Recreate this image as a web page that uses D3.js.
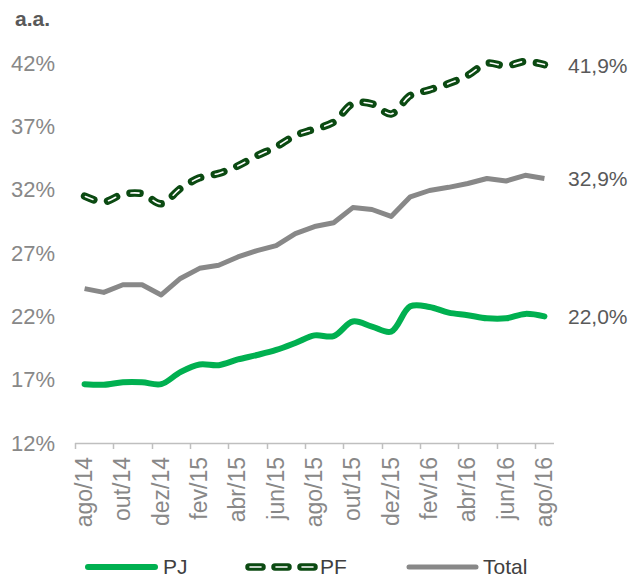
<!DOCTYPE html>
<html>
<head>
<meta charset="utf-8">
<script src="https://cdn.jsdelivr.net/npm/d3@7"></script>
<style>
  body { margin: 0; background: #fff; }
  svg { display: block; font-family: "Liberation Sans", Arial, sans-serif; }
</style>
</head>
<body>
<svg id="chart" width="630" height="578"></svg>
<script>
const months = ["ago/14", "set/14", "out/14", "nov/14", "dez/14", "jan/15", "fev/15", "mar/15", "abr/15", "mai/15",
	"jun/15", "jul/15", "ago/15", "set/15", "out/15", "nov/15", "dez/15", "jan/16", "fev/16", "mar/16",
	"abr/16", "mai/16", "jun/16", "jul/16", "ago/16"];
const pj = [16.65, 16.6, 16.8, 16.8, 16.65, 17.6, 18.2, 18.15, 18.6, 18.95,
	19.35, 19.9, 20.5, 20.45, 21.6, 21.2, 20.8, 22.8, 22.75, 22.3,
	22.1, 21.85, 21.85, 22.2, 22.0];
const pf = [31.5, 31.05, 31.65, 31.7, 30.9, 32.1, 32.95, 33.3, 33.9, 34.7,
	35.4, 36.3, 36.8, 37.35, 38.8, 38.8, 38.0, 39.45, 39.9, 40.4,
	41.05, 42.0, 41.8, 42.15, 41.9];
const total = [24.2, 23.9, 24.5, 24.5, 23.7, 25.0, 25.8, 26.05, 26.7, 27.2,
	27.6, 28.55, 29.1, 29.4, 30.6, 30.45, 29.9, 31.45, 31.95, 32.2,
	32.5, 32.9, 32.7, 33.15, 32.9];
const yTicks = [12, 17, 22, 27, 32, 37, 42];
const endLabels = ["22,0%", "41,9%", "32,9%"];

const svg = d3.select("#chart");
const grey = "#888888";
const darkGreen = "#0b4a12";
const green = "#00b050";

const x = d3.scaleBand().domain(months).range([75, 554]);
const y = d3.scaleLinear().domain([12, 42]).range([443, 63.3]);
const cx = (i) => x(months[i]) + x.bandwidth() / 2;

// y labels
svg.append("g").attr("transform", "translate(55,0)")
	.call(d3.axisLeft(y).tickValues(yTicks).tickSize(0).tickPadding(0).tickFormat((d) => d + "%"))
	.call((g) => g.select(".domain").remove())
	.selectAll("text")
	.attr("fill", grey)
	.style("font-size", "22px")
	.style("font-family", "Liberation Sans, Arial, sans-serif");

svg.append("text").attr("x", 15).attr("y", 26)
	.attr("fill", "#595959").style("font-size", "21px").style("font-weight", "bold")
	.text("a.a.");

// x axis
const xa = svg.append("g");
xa.append("line").attr("x1", x.range()[0]).attr("x2", x.range()[1])
	.attr("y1", 443.5).attr("y2", 443.5).attr("stroke", "#bfbfbf").attr("stroke-width", 1.5);
months.forEach((m, i) => {
	if (i % 2) return;
	const tx = Math.round(x(m)) + 0.5;
	xa.append("line").attr("x1", tx).attr("x2", tx).attr("y1", 443).attr("y2", 449)
		.attr("stroke", "#bfbfbf").attr("stroke-width", 1.5);
	xa.append("text")
		.attr("transform", `translate(${cx(i) + 7.5},457) rotate(-90)`)
		.attr("text-anchor", "end")
		.attr("fill", grey)
		.style("font-size", "23px")
		.text(m);
});

const smooth = d3.line().x((d, i) => cx(i)).y((d) => y(d)).curve(d3.curveCatmullRom.alpha(0.5));
const straight = d3.line().x((d, i) => cx(i)).y((d) => y(d));

// Total
svg.append("path").attr("d", straight(total)).attr("fill", "none")
	.attr("stroke", grey).attr("stroke-width", 5).attr("stroke-linejoin", "round");

// PJ
svg.append("path").attr("d", smooth(pj)).attr("fill", "none")
	.attr("stroke", green).attr("stroke-width", 6).attr("stroke-linecap", "round");

// PF: dark dashes with white core
svg.append("path").attr("d", smooth(pf)).attr("fill", "none")
	.attr("stroke", darkGreen).attr("stroke-width", 7.5)
	.attr("stroke-linecap", "round").attr("stroke-dasharray", "10,14");
svg.append("path").attr("d", smooth(pf)).attr("fill", "none")
	.attr("stroke", "#fff").attr("stroke-width", 1.6)
	.attr("stroke-linecap", "round").attr("stroke-dasharray", "8,16").attr("stroke-dashoffset", -1);

// end value labels
const lastI = months.length - 1;
[[pj, endLabels[0]], [pf, endLabels[1]], [total, endLabels[2]]].forEach(([s, t]) => {
	svg.append("text").attr("x", 568).attr("y", y(s[lastI]) + 8)
		.attr("fill", "#595959").style("font-size", "21px").text(t);
});

// legend
const leg = svg.append("g");
const legY = 567;
leg.append("line").attr("x1", 88).attr("x2", 155).attr("y1", legY).attr("y2", legY)
	.attr("stroke", green).attr("stroke-width", 6).attr("stroke-linecap", "round");
leg.append("text").attr("x", 163).attr("y", legY + 7).attr("fill", "#404040").style("font-size", "21px").text("PJ");
leg.append("line").attr("x1", 249).attr("x2", 314).attr("y1", legY).attr("y2", legY)
	.attr("stroke", darkGreen).attr("stroke-width", 7.5).attr("stroke-linecap", "round").attr("stroke-dasharray", "13,13");
leg.append("line").attr("x1", 249).attr("x2", 314).attr("y1", legY).attr("y2", legY)
	.attr("stroke", "#fff").attr("stroke-width", 1.6).attr("stroke-linecap", "round")
	.attr("stroke-dasharray", "11,15").attr("stroke-dashoffset", -1);
leg.append("text").attr("x", 320).attr("y", legY + 7).attr("fill", "#404040").style("font-size", "21px").text("PF");
leg.append("line").attr("x1", 409).attr("x2", 476).attr("y1", legY).attr("y2", legY)
	.attr("stroke", grey).attr("stroke-width", 5).attr("stroke-linecap", "round");
leg.append("text").attr("x", 483).attr("y", legY + 7).attr("fill", "#404040").style("font-size", "21px").text("Total");
</script>
</body>
</html>
